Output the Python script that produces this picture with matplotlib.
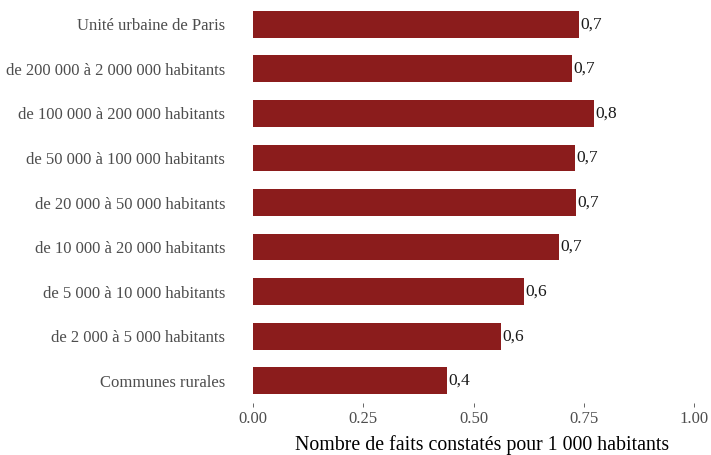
import matplotlib
matplotlib.use('Agg')
import matplotlib.pyplot as plt

categories = ['Unité urbaine de Paris',
              'de 200 000 à 2 000 000 habitants',
              'de 100 000 à 200 000 habitants',
              'de 50 000 à 100 000 habitants',
              'de 20 000 à 50 000 habitants',
              'de 10 000 à 20 000 habitants',
              'de 5 000 à 10 000 habitants',
              'de 2 000 à 5 000 habitants',
              'Communes rurales']
values = [0.740, 0.724, 0.774, 0.730, 0.732, 0.693, 0.614, 0.563, 0.440]
xticks = [0, 0.25, 0.5, 0.75, 1.0]
xticklabels = ['0.00', '0.25', '0.50', '0.75', '1.00']

plt.rcParams['font.family'] = ['Liberation Serif', 'DejaVu Serif']

fig = plt.figure(figsize=(7.11, 4.55), dpi=100)
ax = fig.add_axes([253 / 711, 52 / 455, 441 / 711, 401 / 455])

pos = list(range(len(categories)))[::-1]
ax.barh(pos, values, height=0.6, color='#8B1C1C')

for y, v in zip(pos, values):
    ax.annotate(('%.1f' % v).replace('.', ','), (v, y), xytext=(1, 0),
                textcoords='offset points', va='center', ha='left',
                fontsize=12.5, color='#1a1a1a')

ax.set_xlim(0, 1.0)
ax.set_ylim(-0.5, 8.5)
ax.set_yticks(pos)
ax.set_yticklabels(categories, fontsize=12, color='#4d4d4d')
ax.set_xticks(xticks)
ax.set_xticklabels(xticklabels, fontsize=12, color='#4d4d4d')
ax.tick_params(axis='y', length=0, pad=20)
ax.tick_params(axis='x', length=3, width=0.6, color='#4d4d4d', pad=3)
ax.set_xlabel('Nombre de faits constatés pour 1 000 habitants', fontsize=14.3,
              color='black', va='center')
# label centre ~42 px below the panel
ax.xaxis.set_label_coords(0.52, -0.105)
for s in ax.spines.values():
    s.set_visible(False)

fig.savefig('out.png', dpi=100)
